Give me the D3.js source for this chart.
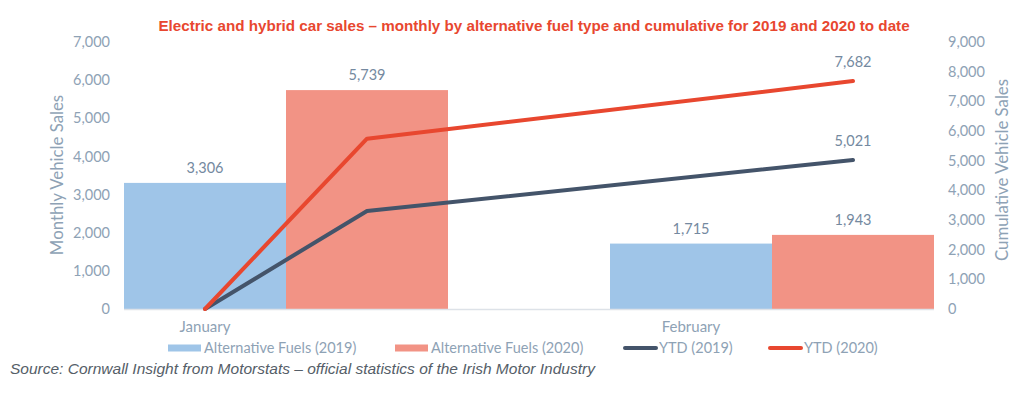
<!DOCTYPE html>
<html>
<head>
<meta charset="utf-8">
<script src="https://cdn.jsdelivr.net/npm/d3@7"></script>
<style>
  body { margin: 0; background: #fff; }
  svg { display: block; font-family: Lato, "Open Sans", sans-serif; }
</style>
</head>
<body>
<div id="chart"></div>
<script>
// data
var months = ["January", "February"];
var years = ["2019", "2020"];
var altFuels2019 = [3306, 1715];
var altFuels2020 = [5739, 1943];
// cumulative lines: start at zero under the 2019 bar of January, then year totals
var ytdPoints = [["January", "2019"], ["January", "2020"], ["February", "2020"]];
var ytd2019 = [0, 3306, 5021];
var ytd2020 = [0, 5739, 7682];
var leftTicks = [0, 1000, 2000, 3000, 4000, 5000, 6000, 7000];
var rightTicks = [0, 1000, 2000, 3000, 4000, 5000, 6000, 7000, 8000, 9000];

var svgWidth = 1024;
var svgHeight = 398;
var margin = { top: 42, right: 90, bottom: 89, left: 124 };
var width = svgWidth - margin.left - margin.right;
var height = svgHeight - margin.top - margin.bottom;

var tickColor = "#8ea2b5";
var blue = "#9fc5e8";
var salmon = "#f29385";
var dark = "#44546a";
var red = "#e8472f";

var svg = d3.select("#chart")
  .append("svg")
  .attr("width", svgWidth)
  .attr("height", svgHeight);

var chartGroup = svg.append("g")
  .attr("transform", `translate(${margin.left}, ${margin.top})`);

// scales
var x0 = d3.scaleBand()
  .domain(months)
  .range([0, width])
  .paddingInner(1 / 3)
  .paddingOuter(0);

var x1 = d3.scaleBand()
  .domain(years)
  .range([0, x0.bandwidth()]);

var yLeft = d3.scaleLinear().domain([0, 7000]).range([height, 0]);
var yRight = d3.scaleLinear().domain([0, 9000]).range([height, 0]);

var fmt = d3.format(",");

// title
svg.append("text")
  .attr("x", 534)
  .attr("y", 31)
  .attr("text-anchor", "middle")
  .style("font-family", "Arial, 'Liberation Sans', sans-serif")
  .style("font-weight", "bold")
  .style("font-size", "15.2px")
  .style("fill", red)
  .text("Electric and hybrid car sales \u2013 monthly by alternative fuel type and cumulative for 2019 and 2020 to date");

// left axis
var leftAxis = chartGroup.append("g")
  .call(d3.axisLeft(yLeft).tickValues(leftTicks).tickFormat(fmt).tickSize(0).tickPadding(14));
leftAxis.select(".domain").remove();
leftAxis.selectAll("text")
  .style("font-size", "14.5px")
  .style("font-family", "Lato, sans-serif")
  .style("fill", tickColor);

// right axis
var rightAxis = chartGroup.append("g")
  .attr("transform", `translate(${width}, 0)`)
  .call(d3.axisRight(yRight).tickValues(rightTicks).tickFormat(fmt).tickSize(0).tickPadding(14));
rightAxis.select(".domain").remove();
rightAxis.selectAll("text")
  .style("font-size", "14.5px")
  .style("font-family", "Lato, sans-serif")
  .style("fill", tickColor);

// bars
var barData = [];
months.forEach(function(m, i) {
  barData.push({ month: m, year: "2019", value: altFuels2019[i] });
  barData.push({ month: m, year: "2020", value: altFuels2020[i] });
});

chartGroup.selectAll("rect.bar")
  .data(barData)
  .enter()
  .append("rect")
  .attr("class", "bar")
  .attr("x", d => x0(d.month) + x1(d.year))
  .attr("y", d => yLeft(d.value))
  .attr("width", x1.bandwidth())
  .attr("height", d => height - yLeft(d.value))
  .attr("fill", d => d.year === "2019" ? blue : salmon);

chartGroup.selectAll("text.barLabel")
  .data(barData)
  .enter()
  .append("text")
  .attr("class", "barLabel")
  .attr("x", d => x0(d.month) + x1(d.year) + x1.bandwidth() / 2)
  .attr("y", d => yLeft(d.value) - 10)
  .attr("text-anchor", "middle")
  .style("font-size", "14.5px")
  .style("fill", "#7489a0")
  .text(d => fmt(d.value));

// baseline
chartGroup.append("line")
  .attr("x1", 0)
  .attr("x2", width)
  .attr("y1", height + 0.5)
  .attr("y2", height + 0.5)
  .attr("stroke", "#dde2e8")
  .attr("stroke-width", 1.5);

// x labels under the 2019 bars
chartGroup.selectAll("text.month")
  .data(months)
  .enter()
  .append("text")
  .attr("class", "month")
  .attr("x", d => x0(d) + x1("2019") + x1.bandwidth() / 2)
  .attr("y", height + 23)
  .attr("text-anchor", "middle")
  .style("font-size", "15px")
  .style("fill", tickColor)
  .text(d => d);

// cumulative lines
var pointX = function(p) { return x0(p[0]) + x1(p[1]) + x1.bandwidth() / 2; };

var lines = [
  { values: ytd2019, color: dark },
  { values: ytd2020, color: red }
];

var lineGen = d3.line()
  .x((d, i) => pointX(ytdPoints[i]))
  .y(d => yRight(d));

lines.forEach(function(s) {
  chartGroup.append("path")
    .datum(s.values)
    .attr("d", lineGen)
    .attr("fill", "none")
    .attr("stroke", s.color)
    .attr("stroke-width", 4)
    .attr("stroke-linecap", "round")
    .attr("stroke-linejoin", "round");

  var last = s.values.length - 1;
  chartGroup.append("text")
    .attr("x", pointX(ytdPoints[last]))
    .attr("y", yRight(s.values[last]) - 14)
    .attr("text-anchor", "middle")
    .style("font-size", "14.5px")
    .style("fill", "#7489a0")
    .text(fmt(s.values[last]));
});

// axis titles
svg.append("text")
  .attr("transform", "translate(63, 175) rotate(-90)")
  .attr("text-anchor", "middle")
  .style("font-size", "16.8px")
  .style("fill", tickColor)
  .text("Monthly Vehicle Sales");

svg.append("text")
  .attr("transform", "translate(1008, 170) rotate(-90)")
  .attr("text-anchor", "middle")
  .style("font-size", "16.8px")
  .style("fill", tickColor)
  .text("Cumulative Vehicle Sales");

// legend
var legendItems = [
  { label: "Alternative Fuels (2019)", color: blue, x: 168, type: "bar" },
  { label: "Alternative Fuels (2020)", color: salmon, x: 395, type: "bar" },
  { label: "YTD (2019)", color: dark, x: 623, type: "line" },
  { label: "YTD (2020)", color: red, x: 768, type: "line" }
];

var legend = svg.append("g").attr("transform", "translate(0, 348)");
legendItems.forEach(function(item) {
  if (item.type === "bar") {
    legend.append("rect")
      .attr("x", item.x)
      .attr("y", -3.5)
      .attr("width", 33)
      .attr("height", 7)
      .attr("fill", item.color);
  } else {
    legend.append("line")
      .attr("x1", item.x + 2)
      .attr("x2", item.x + 33)
      .attr("y1", 0)
      .attr("y2", 0)
      .attr("stroke", item.color)
      .attr("stroke-width", 4)
      .attr("stroke-linecap", "round");
  }
  legend.append("text")
    .attr("x", item.x + 36)
    .attr("y", 5)
    .style("font-size", "14.5px")
    .style("fill", tickColor)
    .text(item.label);
});

// source
svg.append("text")
  .attr("x", 10)
  .attr("y", 374)
  .style("font-family", "Arial, 'Liberation Sans', sans-serif")
  .style("font-style", "italic")
  .style("font-size", "15.5px")
  .style("fill", "#555e68")
  .text("Source: Cornwall Insight from Motorstats \u2013 official statistics of the Irish Motor Industry");
</script>
</body>
</html>
